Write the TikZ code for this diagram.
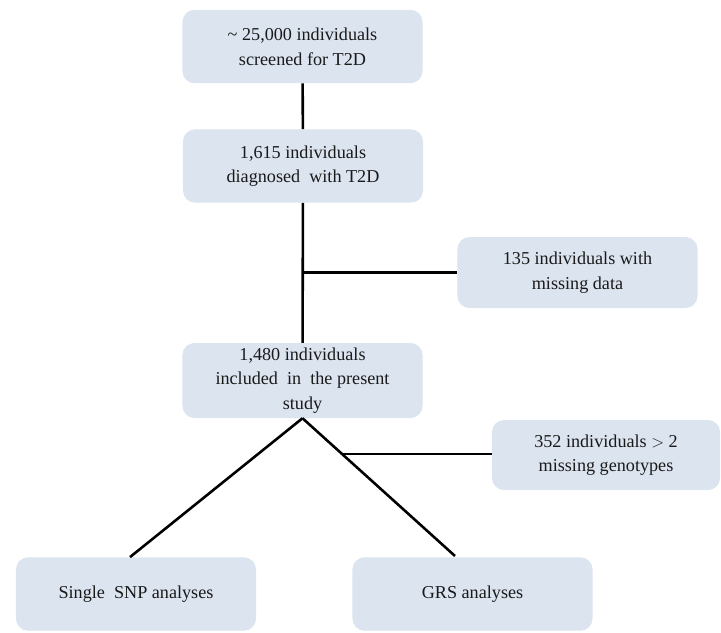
\documentclass[tikz,border=0pt]{standalone}
\usepackage{fontspec}
\setmainfont{Liberation Serif}
\usepackage{xcolor}
\usetikzlibrary{calc}

\definecolor{boxfill}{HTML}{DCE4F0}
\definecolor{boxtext}{HTML}{1A1A1A}

\tikzset{
	flowbox/.style={fill=boxfill, rounded corners=0.36cm, align=center,
		text=boxtext, font=\fontsize{15.5}{21}\selectfont,
		minimum width=7.2cm, minimum height=2.2cm, inner sep=0pt},
	link/.style={line width=2.2pt, black}
}

\begin{document}
\begin{tikzpicture}[x=0.03cm, y=-0.03cm]
			\useasboundingbox (0, 0) rectangle (721, 632);
			\node[flowbox] (screened) at (302.5, 46.5) {\textasciitilde\ 25,000 individuals\\screened for T2D};
			\node[flowbox] (diagnosed) at (303, 166) {1,615 individuals\\diagnosed\ \ with T2D};
			\node[flowbox, minimum height=2.13cm] (missing) at (577.5, 272.5) {135 individuals with\\missing data};
			\node[flowbox, minimum height=2.25cm] (included) at (302.5, 380.5) {1,480 individuals\\included\ \ in\ \ the present\\study};
			\node[flowbox, minimum width=6.84cm, minimum height=2.1cm] (genotypes) at (606, 455) {352 individuals $>$ 2\\missing genotypes};
			\node[flowbox] (single) at (136, 594) {Single\ \ SNP analyses};
			\node[flowbox] (grs) at (472.5, 594) {GRS analyses};
			\coordinate (grstop) at (455, 556);
			\coordinate (branch) at ($(included.south)!0.26!(grstop)$);
			\draw [link] (screened) -- (diagnosed);
			\draw [link] (diagnosed) -- (included);
			\draw [link] (diagnosed.south |- missing.west) -- (missing.west);
			\draw [link] (included.south) -- (single.north -| 130, 0);
			\draw [link] (included.south) -- (grstop);
			\draw [link] (branch) -- (branch -| genotypes.west);
		\end{tikzpicture}
\end{document}
